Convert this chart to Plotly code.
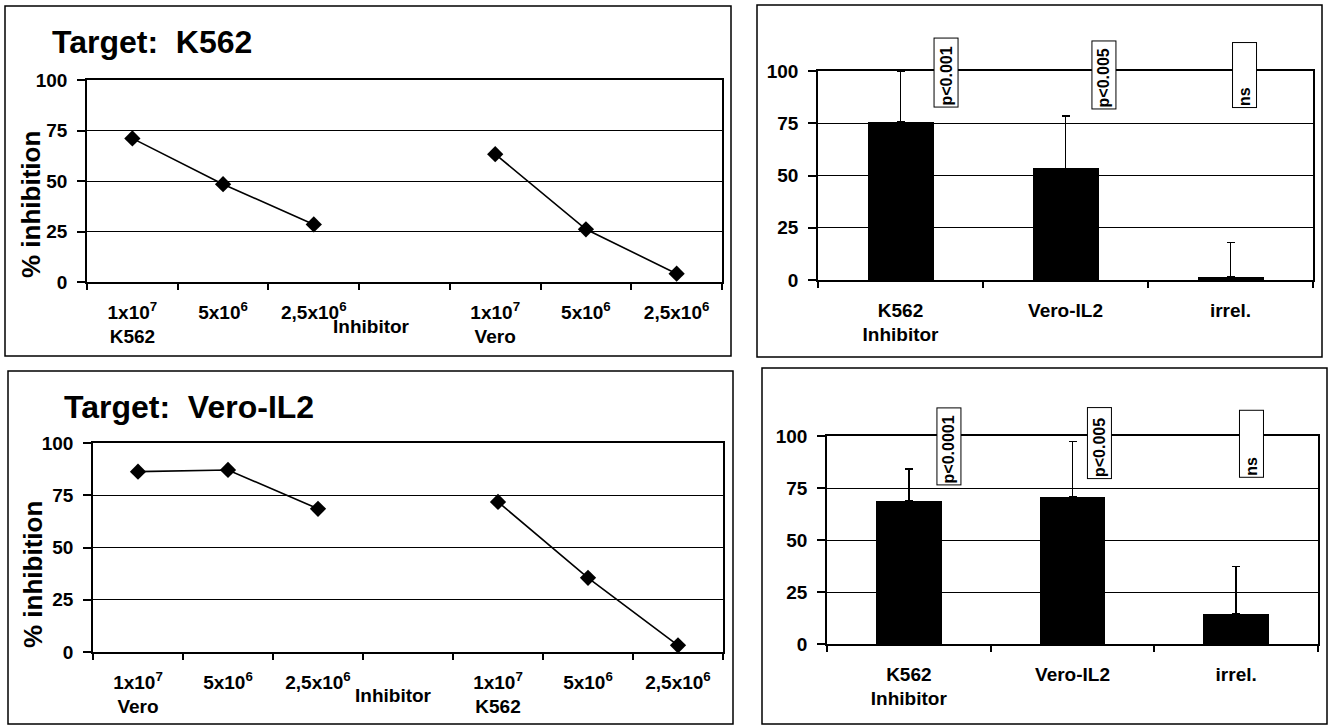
import plotly.graph_objects as go

# ---------------- data ----------------
dose_labels = ["1x10<sup>7</sup>", "5x10<sup>6</sup>", "2,5x10<sup>6</sup>"]

# Target: K562
k562_target_k562_inh = [71.1, 48.4, 28.5]
k562_target_vero_inh = [63.3, 26.1, 4.1]
# Target: Vero-IL2
vero_target_vero_inh = [86.3, 87.1, 68.5]
vero_target_k562_inh = [71.8, 35.5, 3.2]

bar_categories = ["K562<br>Inhibitor", "Vero-IL2", "irrel."]
bar_k562_means = [75.5, 53.4, 1.6]
bar_k562_err = [24.5, 25.1, 16.4]
bar_vero_means = [68.9, 70.8, 14.6]
bar_vero_err = [15.2, 26.5, 22.6]
p_k562 = ["p<0.001", "p<0.005", "ns"]
p_vero = ["p<0.0001", "p<0.005", "ns"]

y_ticks = [0, 25, 50, 75, 100]

# ---------------- layout helpers ----------------
W, H = 1329, 726
FONT = "Liberation Sans, Arial, sans-serif"


def xd(x0, x1):
    return [x0 / W, x1 / W]


def yd(y0, y1):
    return [1 - y1 / H, 1 - y0 / H]


def px(x):
    return x / W


def py(y):
    return 1 - y / H


tickfont = dict(family=FONT, size=19, color="black", weight="bold")

fig = go.Figure()

grp1 = [0, 1, 2]
grp2 = [4, 5, 6]

line_style = dict(color="black", width=1.6)
marker_style = dict(symbol="diamond", size=12.5, color="black")

# Panel A
fig.add_trace(go.Scatter(x=grp1, y=k562_target_k562_inh, mode="lines+markers",
                         line=line_style, marker=marker_style, cliponaxis=False,
                         xaxis="x", yaxis="y"))
fig.add_trace(go.Scatter(x=grp2, y=k562_target_vero_inh, mode="lines+markers",
                         line=line_style, marker=marker_style, cliponaxis=False,
                         xaxis="x", yaxis="y"))
# Panel C
fig.add_trace(go.Scatter(x=grp1, y=vero_target_vero_inh, mode="lines+markers",
                         line=line_style, marker=marker_style, cliponaxis=False,
                         xaxis="x3", yaxis="y3"))
fig.add_trace(go.Scatter(x=grp2, y=vero_target_k562_inh, mode="lines+markers",
                         line=line_style, marker=marker_style, cliponaxis=False,
                         xaxis="x3", yaxis="y3"))

bar_x = [0, 1, 2]
err_style = dict(type="data", symmetric=False, arrayminus=[0, 0, 0],
                 color="black", thickness=1.5, width=4)
fig.add_trace(go.Bar(x=bar_x, y=bar_k562_means, width=0.4, marker_color="black",
                     marker_line_width=0,
                     error_y=dict(array=bar_k562_err, **err_style),
                     xaxis="x2", yaxis="y2"))
fig.add_trace(go.Bar(x=bar_x, y=bar_vero_means, width=0.4, marker_color="black",
                     marker_line_width=0,
                     error_y=dict(array=bar_vero_err, **err_style),
                     xaxis="x4", yaxis="y4"))


def line_xaxis(dom, left_label, right_label):
    texts = [dose_labels[0] + "<br>" + left_label, dose_labels[1], dose_labels[2],
             dose_labels[0] + "<br>" + right_label, dose_labels[1], dose_labels[2]]
    return dict(domain=dom, range=[-0.5, 6.5], tickmode="array",
                tickvals=grp1 + grp2, ticktext=texts, ticks="",
                tickfont=tickfont, showgrid=False, zeroline=False,
                showline=True, linecolor="black", linewidth=1.5, mirror=True,
                ticklabelstandoff=12, automargin=False,
                minor=dict(tickmode="array", tickvals=[i - 0.5 for i in range(8)],
                           ticks="outside", ticklen=6, tickwidth=1.5, tickcolor="black",
                           showgrid=False))


def bar_xaxis(dom):
    return dict(domain=dom, range=[-0.5, 2.5], tickmode="array",
                tickvals=bar_x, ticktext=bar_categories, ticks="",
                tickfont=tickfont, showgrid=False, zeroline=False,
                showline=True, linecolor="black", linewidth=1.5, mirror=True,
                ticklabelstandoff=12, automargin=False,
                minor=dict(tickmode="array", tickvals=[i - 0.5 for i in range(4)],
                           ticks="outside", ticklen=6, tickwidth=1.5, tickcolor="black",
                           showgrid=False))


def yaxis(dom, anchor):
    return dict(domain=dom, range=[0, 100], tickmode="array", tickvals=y_ticks,
                ticks="outside", ticklen=8, tickwidth=1.5, tickcolor="black",
                tickfont=tickfont, showgrid=True, gridcolor="black", gridwidth=1.2,
                zeroline=False, showline=True, linecolor="black", linewidth=1.5,
                mirror=True, anchor=anchor, ticklabelstandoff=6, automargin=False)


fig.update_layout(
    width=W, height=H, margin=dict(l=0, r=0, t=0, b=0, autoexpand=False),
    paper_bgcolor="white", plot_bgcolor="white", showlegend=False,
    xaxis=dict(anchor="y", **line_xaxis(xd(87, 722), "K562", "Vero")),
    yaxis=yaxis(yd(80, 282), "x"),
    xaxis2=dict(anchor="y2", **bar_xaxis(xd(818, 1313))),
    yaxis2=yaxis(yd(71, 280), "x2"),
    xaxis3=dict(anchor="y3", **line_xaxis(xd(93, 723), "Vero", "K562")),
    yaxis3=yaxis(yd(443, 652), "x3"),
    xaxis4=dict(anchor="y4", **bar_xaxis(xd(827, 1318))),
    yaxis4=yaxis(yd(436, 644), "x4"),
    bargap=0,
)

# panel frames
frames = [(5, 6, 731, 356), (757, 5, 1322, 357), (8, 371, 733, 724), (762, 368, 1327, 724)]
for x0, y0, x1, y1 in frames:
    fig.add_shape(type="rect", xref="paper", yref="paper",
                  x0=px(x0), x1=px(x1), y0=py(y1), y1=py(y0),
                  line=dict(color="black", width=1.5), fillcolor="rgba(0,0,0,0)",
                  layer="below")

title_font = dict(family=FONT, size=32, color="black", weight="bold")
ytitle_font = dict(family=FONT, size=26, color="black", weight="bold")
lab_font = dict(family=FONT, size=19, color="black", weight="bold")
p_font = dict(family=FONT, size=16, color="black", weight="bold")

ann = []
ann.append(dict(text="Target:  K562", x=px(50), y=py(42), xref="paper", yref="paper",
                xanchor="left", yanchor="middle", showarrow=False, font=title_font))
ann.append(dict(text="Target:  Vero-IL2", x=px(62), y=py(407), xref="paper", yref="paper",
                xanchor="left", yanchor="middle", showarrow=False, font=title_font))
ann.append(dict(text="% inhibition", x=px(31), y=py(205), xref="paper", yref="paper",
                textangle=-90, xanchor="center", yanchor="middle", showarrow=False,
                font=ytitle_font))
ann.append(dict(text="% inhibition", x=px(33), y=py(575), xref="paper", yref="paper",
                textangle=-90, xanchor="center", yanchor="middle", showarrow=False,
                font=ytitle_font))
ann.append(dict(text="Inhibitor", x=px(371), y=py(326), xref="paper", yref="paper",
                xanchor="center", yanchor="middle", showarrow=False, font=lab_font))
ann.append(dict(text="Inhibitor", x=px(393), y=py(695), xref="paper", yref="paper",
                xanchor="center", yanchor="middle", showarrow=False, font=lab_font))

# p-value boxes: (x in category units, y anchor, pixel shift, box length)
p_pos_top = [(0.273, 99.9, -1.8, 66), (1.233, 99.9, -3.3, 65), (2.082, 99.9, -3.8, 62)]
p_pos_bot = [(0.248, 95.2, 0, 74), (1.162, 96.6, 0, 68), (2.096, 96.2, 0, 64)]
for labels, pos, xr, yr in ((p_k562, p_pos_top, "x2", "y2"), (p_vero, p_pos_bot, "x4", "y4")):
    for t, (x, y, ys, L) in zip(labels, pos):
        ann.append(dict(text=t, x=x, y=y, yshift=ys, xref=xr, yref=yr, textangle=-90,
                        showarrow=False, font=p_font, bgcolor="white",
                        bordercolor="black", borderwidth=1, borderpad=1,
                        width=L, height=21, align="left", valign="middle",
                        xanchor="center", yanchor="middle"))

fig.update_layout(annotations=ann)

fig.write_html("out.html", config={"displayModeBar": False},
               post_script="document.body.style.margin='0px';")
